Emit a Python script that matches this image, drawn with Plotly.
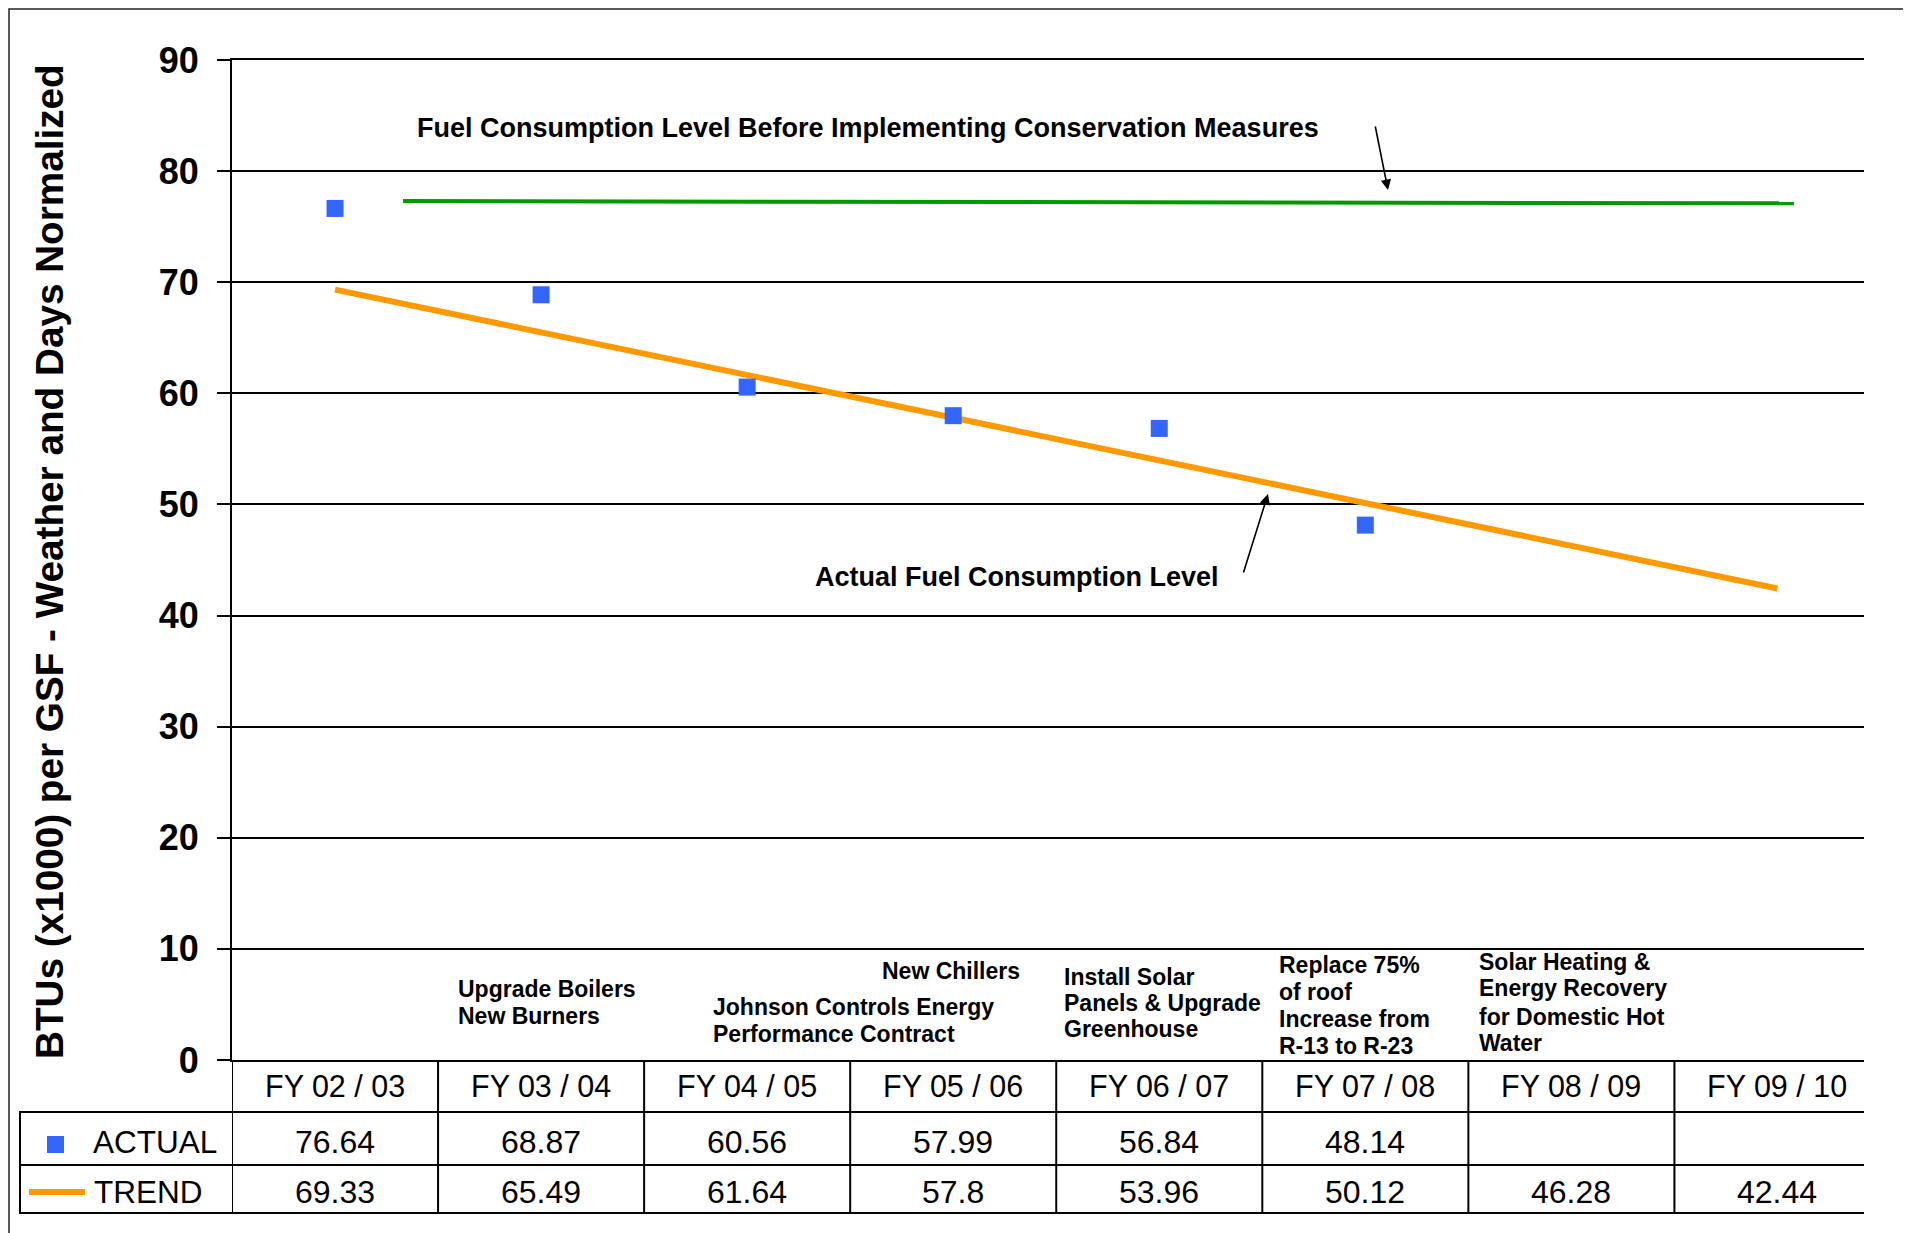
import plotly.graph_objects as go

# ---------------- data ----------------
categories = ["FY 02 / 03", "FY 03 / 04", "FY 04 / 05", "FY 05 / 06",
              "FY 06 / 07", "FY 07 / 08", "FY 08 / 09", "FY 09 / 10"]
actual = [76.64, 68.87, 60.56, 57.99, 56.84, 48.14, None, None]
trend = [69.33, 65.49, 61.64, 57.8, 53.96, 50.12, 46.28, 42.44]
baseline_x = [0.33, 7.08]
baseline_y = [77.3, 77.1]
y_ticks = [0, 10, 20, 30, 40, 50, 60, 70, 80, 90]

measures = [
    ["Upgrade Boilers", "New Burners"],
    ["New Chillers"],
    ["Johnson Controls Energy", "Performance Contract"],
    ["Install Solar", "Panels & Upgrade", "Greenhouse"],
    ["Replace 75%", "of roof", "Increase from", "R-13 to R-23"],
    ["Solar Heating &", "Energy Recovery", "for Domestic Hot", "Water"],
]
# left pixel and per-line center pixels of each measure label (page pixels)
measure_left = [456, 880, 711, 1062, 1277, 1477]
measure_lines_y = [
    [989, 1016],
    [970.5],
    [1006.7, 1033.5],
    [976.7, 1002.7, 1029.3],
    [965, 991.7, 1019, 1045.7],
    [961.7, 988.3, 1016.7, 1043.3],
]

# ---------------- layout geometry (page pixels) ----------------
OFF = 8                      # default body margin of the html page
W, H = 1911 - OFF, 1233 - OFF
L, R, T, B = 232, 1864, 60, 1060
PW, PH = R - L, B - T
FONT = "Liberation Sans, Arial, sans-serif"


def px(x):
    return (x - L) / PW


def py(y):
    return (B - y) / PH


idx = list(range(len(categories)))

fig = go.Figure()
fig.add_trace(go.Scatter(x=baseline_x, y=baseline_y, mode="lines",
                         line=dict(color="#009900", width=4), hoverinfo="skip",
                         showlegend=False))
fig.add_trace(go.Scatter(x=idx, y=trend, mode="lines",
                         line=dict(color="#FF9900", width=6), name="TREND",
                         showlegend=False))
fig.add_trace(go.Scatter(x=idx, y=actual, mode="markers",
                         marker=dict(symbol="square", size=17, color="#3366FF",
                                     line=dict(width=0)),
                         name="ACTUAL", showlegend=False))

shapes = []
# table lines
for yy in [1112, 1165, 1213]:
    shapes.append(dict(type="line", xref="paper", yref="paper",
                       x0=px(19), x1=px(R), y0=py(yy), y1=py(yy),
                       line=dict(color="black", width=2)))
shapes.append(dict(type="line", xref="paper", yref="paper",
                   x0=px(20), x1=px(20), y0=py(1112), y1=py(1213),
                   line=dict(color="black", width=2)))
for k in range(len(categories)):
    shapes.append(dict(type="line", xref="x", yref="paper",
                       x0=k - 0.5, x1=k - 0.5, y0=py(B), y1=py(1213),
                       line=dict(color="black", width=2)))
# legend glyphs in table
shapes.append(dict(type="rect", xref="paper", yref="paper",
                   x0=px(47), x1=px(64), y0=py(1136), y1=py(1153),
                   fillcolor="#3366FF", line=dict(width=0)))
shapes.append(dict(type="line", xref="paper", yref="paper",
                   x0=px(29), x1=px(85), y0=py(1192), y1=py(1192),
                   line=dict(color="#FF9900", width=6)))
# outer frame (no bottom edge visible in the reference)
shapes.append(dict(type="rect", xref="paper", yref="paper",
                   x0=px(9), x1=px(1906), y0=py(1260), y1=py(9),
                   line=dict(color="#222222", width=1.5), fillcolor="rgba(0,0,0,0)"))

ann = []
# y axis title
ann.append(dict(xref="paper", yref="paper", x=px(49), y=py(562),
                xanchor="center", yanchor="middle",
                text="<b>BTUs (x1000) per GSF - Weather and Days Normalized</b>",
                textangle=-90, showarrow=False,
                font=dict(family=FONT, size=38.7, color="black")))
# callouts
ann.append(dict(xref="paper", yref="paper", x=px(415), y=py(128), xanchor="left",
                yanchor="middle", showarrow=False,
                text="<b>Fuel Consumption Level Before Implementing Conservation Measures</b>",
                font=dict(family=FONT, size=27, color="black")))
ann.append(dict(xref="paper", yref="paper", x=px(813), y=py(577), xanchor="left",
                yanchor="middle", showarrow=False,
                text="<b>Actual Fuel Consumption Level</b>",
                font=dict(family=FONT, size=27, color="black")))
# arrows
ann.append(dict(xref="paper", yref="paper", x=px(1388), y=py(190), ax=1375 - 1388,
                ay=125 - 190, axref="pixel", ayref="pixel", text="", showarrow=True,
                arrowhead=2, arrowsize=1.3, arrowwidth=1.6, arrowcolor="black",
                standoff=0, startstandoff=0))
ann.append(dict(xref="paper", yref="paper", x=px(1268), y=py(494), ax=1243 - 1268,
                ay=574 - 494, axref="pixel", ayref="pixel", text="", showarrow=True,
                arrowhead=2, arrowsize=1.3, arrowwidth=1.6, arrowcolor="black",
                standoff=0, startstandoff=0))
# measure labels (one annotation per line for tight line spacing)
for lines, lx, ys in zip(measures, measure_left, measure_lines_y):
    for txt, cy in zip(lines, ys):
        ann.append(dict(xref="paper", yref="paper", x=px(lx), y=py(cy), xanchor="left",
                        yanchor="middle", align="left", showarrow=False,
                        text="<b>" + txt + "</b>",
                        font=dict(family=FONT, size=23, color="black")))
# table text
hfont = dict(family=FONT, size=30.5, color="black")
nfont = dict(family=FONT, size=32, color="black")
lfont = dict(family=FONT, size=31.5, color="black")
for k, c in enumerate(categories):
    ann.append(dict(xref="x", yref="paper", x=k, y=py(1086), text=c,
                    xanchor="center", yanchor="middle", showarrow=False, font=hfont))
    if actual[k] is not None:
        ann.append(dict(xref="x", yref="paper", x=k, y=py(1142), text=f"{actual[k]:g}",
                        xanchor="center", yanchor="middle", showarrow=False, font=nfont))
    ann.append(dict(xref="x", yref="paper", x=k, y=py(1192), text=f"{trend[k]:g}",
                    xanchor="center", yanchor="middle", showarrow=False, font=nfont))
ann.append(dict(xref="paper", yref="paper", x=px(91), y=py(1142), xanchor="left",
                yanchor="middle", text="ACTUAL", showarrow=False, font=lfont))
ann.append(dict(xref="paper", yref="paper", x=px(92), y=py(1192), xanchor="left",
                yanchor="middle", text="TREND", showarrow=False, font=lfont))

fig.update_layout(
    width=W, height=H,
    margin=dict(l=L - OFF, r=(W + OFF) - R, t=T - OFF, b=(H + OFF) - B, pad=0),
    paper_bgcolor="white", plot_bgcolor="white",
    showlegend=False,
    shapes=shapes, annotations=ann,
    xaxis=dict(range=[-0.5, 7.42], showgrid=False, zeroline=False,
               showticklabels=False, ticks="", showline=True, linecolor="black",
               linewidth=2, mirror=True),
    yaxis=dict(range=[0, 90], tickvals=y_ticks, showgrid=True, gridcolor="black",
               gridwidth=2, zeroline=False, showline=True, linecolor="black",
               linewidth=2, ticks="outside", ticklen=13, tickwidth=2,
               tickcolor="black", ticklabelstandoff=11,
               tickfont=dict(family=FONT, size=36, color="black", weight="bold")),
)

fig.write_html("out.html")
